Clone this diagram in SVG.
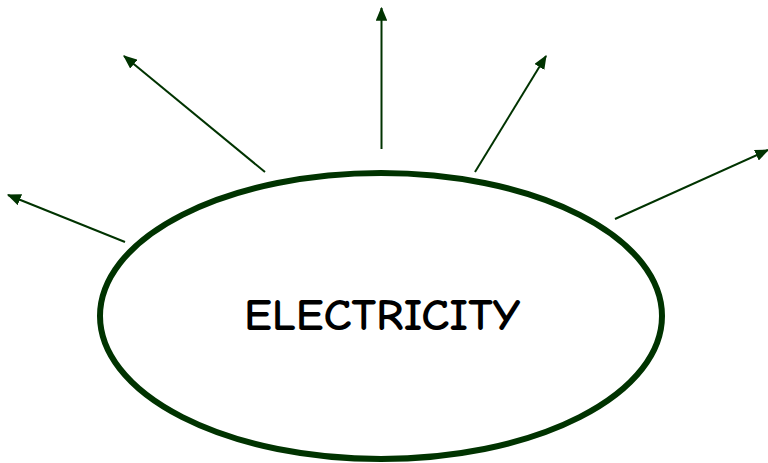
<svg xmlns="http://www.w3.org/2000/svg" width="768" height="463" viewBox="0 0 768 463">
<style>
.c{stroke:#003300;stroke-width:2;fill:none;marker-end:url(#ah)}
.lbl{font-family:"Comic Neue","Liberation Sans",sans-serif;font-size:45px;font-weight:bold;fill:#000}
</style>
<defs>
<marker id="ah" viewBox="0 0 12 10" refX="11" refY="5" markerWidth="7" markerHeight="5.8" orient="auto" markerUnits="strokeWidth">
<path d="M0,0 L12,5 L0,10 Z" fill="#003300"/>
</marker>
</defs>
<rect width="768" height="463" fill="#fff"/>
<g id="electricity">
<ellipse cx="381" cy="316" rx="281" ry="143" fill="#fff" stroke="#003300" stroke-width="6"/>
<text class="lbl" x="382" y="330" text-anchor="middle" textLength="276" lengthAdjust="spacingAndGlyphs">ELECTRICITY</text>
</g>
<g id="connectors">
<line class="c" x1="125" y1="242" x2="8" y2="195"/>
<line class="c" x1="265" y1="172" x2="124" y2="56"/>
<line class="c" x1="381.5" y1="149" x2="381.5" y2="8"/>
<line class="c" x1="475" y1="172" x2="546" y2="56"/>
<line class="c" x1="615" y1="219" x2="768" y2="150"/>
</g>
</svg>
